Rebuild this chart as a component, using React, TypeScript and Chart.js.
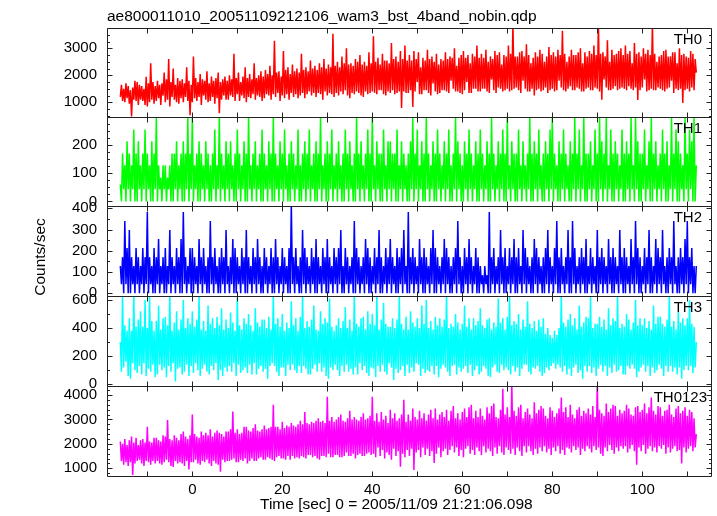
import React, { useEffect, useRef } from "react";
import { Chart, registerables } from "chart.js";
Chart.register(...registerables);

// ---- data: counts/sec sampled every 0.25 s starting at t = -16 s ----
const T0 = -16;
const DT = 0.25;

const th0 = [
  1200, 1650, 1050, 1500, 1000, 1700, 1150, 1600,
  950, 1450, 480, 1550, 1100, 1800, 1050, 1750,
  900, 1650, 1100, 1600, 1050, 1500, 900, 1950,
  850, 1700, 1000, 2450, 1100, 1750, 950, 1600,
  1050, 1800, 1150, 1650, 900, 1700, 1250, 2100,
  1000, 1850, 1100, 2600, 850, 1750, 1200, 2250,
  1100, 1650, 1000, 1900, 950, 1800, 1150, 1850,
  1000, 1700, 1200, 2300, 1050, 1800, 520, 1650,
  1000, 2700, 1150, 1900, 1050, 1750, 1200, 2050,
  900, 1850, 1250, 1800, 1100, 2150, 1000, 1700,
  1050, 1950, 1200, 1800, 950, 1900, 1150, 2100,
  600, 1750, 1100, 1850, 1250, 1950, 1100, 1800,
  1100, 2000, 1250, 1850, 1200, 2800, 1050, 1900,
  1300, 2100, 1050, 1750, 1250, 1950, 1150, 2300,
  1000, 1900, 1200, 2050, 1150, 1850, 1300, 2450,
  1100, 1900, 1250, 2000, 1200, 2150, 1050, 1950,
  1150, 2200, 1300, 2050, 1250, 2350, 1100, 2000,
  1300, 3280, 1200, 2100, 1350, 2150, 1050, 1950,
  1250, 2900, 1150, 2200, 1300, 2300, 1100, 2050,
  1350, 2400, 1200, 2150, 1300, 2250, 1150, 2100,
  1250, 2800, 1350, 2200, 1150, 2300, 1300, 2150,
  1400, 2550, 1250, 2250, 1350, 2350, 1200, 2200,
  1350, 2450, 1300, 2300, 1100, 2600, 1400, 2250,
  1250, 2400, 1350, 2300, 1300, 3540, 1200, 2350,
  1350, 2500, 1250, 2300, 1400, 2700, 1300, 2450,
  1450, 3000, 1250, 2400, 1150, 2450, 1350, 2350,
  1300, 2600, 1400, 2500, 1350, 2750, 1250, 2400,
  1200, 2500, 1400, 2350, 1300, 2850, 1350, 2450,
  1400, 3450, 1350, 2500, 1300, 2650, 1450, 2400,
  1450, 2800, 1300, 2550, 1250, 2550, 1400, 2450,
  1350, 3200, 1450, 2600, 1300, 2700, 1350, 2500,
  1400, 2900, 790, 2600, 1400, 3100, 1350, 2550,
  1350, 2750, 1450, 2550, 830, 2900, 1400, 2600,
  1750, 2850, 1300, 2300, 1300, 2650, 1450, 2550,
  1450, 2950, 1350, 2600, 1250, 2700, 1700, 2500,
  1400, 2800, 1300, 2400, 1350, 2600, 1450, 2550,
  1450, 2850, 1400, 2600, 1350, 2700, 1800, 2650,
  1500, 3000, 1400, 2350, 1400, 2650, 1350, 2750,
  1300, 2900, 1450, 2650, 1750, 2750, 1350, 2450,
  1350, 2800, 1500, 2700, 1500, 3100, 1400, 2650,
  1400, 2800, 1500, 2650, 1500, 2950, 1400, 2500,
  1350, 2700, 1850, 2600, 1450, 2900, 1350, 2750,
  1550, 2850, 1500, 2400, 1400, 2750, 1450, 2700,
  1500, 3100, 1400, 2800, 1450, 3900, 1500, 2700,
  1550, 2700, 1450, 2850, 1350, 2900, 1800, 2700,
  1500, 3150, 1400, 2750, 1400, 2450, 1500, 2650,
  1250, 2850, 1450, 2700, 1500, 2950, 1400, 2800,
  1450, 2500, 1550, 2700, 1350, 3050, 1450, 2750,
  1500, 2850, 1400, 2700, 1450, 2950, 1800, 2750,
  1550, 3650, 1450, 2800, 1400, 2500, 1500, 2700,
  1600, 2950, 1450, 2750, 1450, 2750, 1550, 2850,
  1500, 3000, 1400, 2450, 1400, 2850, 1500, 2700,
  1550, 2900, 1450, 2800, 1450, 3100, 1550, 2750,
  1500, 3900, 1400, 2800, 1100, 2850, 1850, 2700,
  1550, 3300, 1450, 2500, 1450, 2950, 1500, 2750,
  1600, 2800, 1450, 2900, 1500, 3000, 1550, 2750,
  1500, 3100, 1450, 2800, 1600, 2900, 1500, 2450,
  1450, 3200, 1550, 2800, 1090, 2850, 1450, 2700,
  1550, 3000, 1850, 2800, 1400, 2950, 1450, 2750,
  1500, 3900, 1450, 2800, 1450, 2500, 1550, 2700,
  1500, 2750, 1450, 2900, 1400, 2950, 1500, 2700,
  1550, 2700, 1800, 2850, 1350, 2850, 1500, 2450,
  1450, 3000, 1500, 2750, 975, 2800, 1450, 2700,
  1500, 2650, 1400, 2900, 1550, 2800, 1450, 2600,
  2100,
];

const th1 = [
  60, 0, 170, 43, 128, 0, 213, 43,
  170, 0, 128, 43, 255, 0, 170, 0,
  213, 43, 128, 0, 170, 43, 255, 0,
  170, 43, 128, 0, 213, 0, 170, 43,
  297, 0, 128, 43, 85, 0, 128, 43,
  128, 0, 85, 43, 128, 0, 170, 0,
  170, 43, 213, 0, 128, 43, 170, 0,
  213, 0, 170, 43, 297, 0, 170, 43,
  297, 0, 128, 43, 170, 0, 213, 0,
  170, 43, 128, 0, 213, 43, 170, 0,
  128, 0, 170, 43, 255, 0, 128, 43,
  297, 0, 170, 43, 128, 0, 213, 43,
  170, 0, 213, 43, 128, 0, 170, 0,
  255, 43, 170, 0, 128, 43, 213, 0,
  170, 0, 297, 43, 128, 0, 170, 43,
  213, 0, 128, 43, 170, 0, 255, 0,
  170, 43, 128, 0, 213, 43, 170, 0,
  297, 0, 170, 43, 128, 0, 213, 43,
  170, 0, 255, 43, 128, 0, 170, 0,
  213, 43, 170, 0, 128, 43, 255, 0,
  128, 0, 170, 43, 213, 0, 170, 43,
  255, 0, 128, 43, 170, 0, 213, 0,
  170, 43, 297, 0, 128, 43, 170, 0,
  213, 0, 170, 43, 255, 0, 128, 43,
  170, 0, 213, 43, 128, 0, 170, 0,
  255, 43, 170, 0, 213, 43, 128, 0,
  170, 0, 297, 43, 170, 0, 213, 43,
  128, 0, 170, 43, 255, 0, 170, 0,
  297, 43, 128, 0, 213, 43, 170, 0,
  170, 0, 255, 43, 128, 0, 213, 43,
  213, 0, 170, 43, 170, 0, 255, 0,
  128, 43, 213, 0, 170, 43, 128, 0,
  170, 0, 213, 43, 297, 0, 170, 43,
  255, 0, 128, 43, 213, 0, 170, 0,
  297, 43, 170, 0, 128, 43, 213, 0,
  170, 0, 255, 43, 170, 0, 128, 43,
  213, 0, 170, 43, 255, 0, 128, 0,
  170, 43, 297, 0, 213, 43, 170, 0,
  128, 0, 213, 43, 170, 0, 255, 43,
  170, 0, 128, 43, 213, 0, 170, 0,
  255, 43, 170, 0, 128, 43, 213, 0,
  170, 0, 297, 43, 170, 0, 128, 43,
  213, 0, 170, 43, 255, 0, 170, 0,
  297, 43, 128, 0, 213, 43, 170, 0,
  170, 0, 255, 43, 128, 0, 213, 43,
  128, 0, 170, 43, 297, 0, 170, 0,
  213, 43, 170, 0, 255, 43, 128, 0,
  170, 0, 213, 43, 170, 0, 255, 43,
  297, 0, 170, 43, 128, 0, 213, 0,
  170, 43, 255, 0, 170, 43, 128, 0,
  213, 0, 170, 43, 297, 0, 170, 43,
  255, 0, 128, 43, 297, 0, 170, 0,
  170, 43, 213, 0, 128, 43, 255, 0,
  170, 0, 297, 43, 213, 0, 170, 43,
  297, 0, 128, 43, 255, 0, 170, 0,
  213, 43, 170, 0, 128, 43, 255, 0,
  170, 0, 213, 43, 170, 0, 297, 43,
  128, 0, 297, 43, 213, 0, 170, 0,
  170, 43, 255, 0, 128, 43, 213, 0,
  297, 0, 170, 43, 213, 0, 128, 43,
  170, 0, 255, 43, 170, 0, 213, 0,
  128, 43, 297, 0, 170, 43, 255, 0,
  213, 0, 170, 43, 128, 0, 297, 43,
  170, 0, 255, 43, 213, 0, 297, 0,
  128,
];

const th2 = [
  128, 43, 170, 0, 340, 43, 213, 0,
  298, 0, 170, 43, 128, 0, 213, 43,
  170, 0, 128, 43, 213, 0, 170, 43,
  383, 0, 170, 43, 128, 0, 213, 0,
  170, 43, 255, 0, 128, 43, 170, 0,
  213, 0, 128, 43, 298, 0, 170, 43,
  128, 0, 213, 43, 170, 0, 255, 0,
  383, 43, 170, 0, 128, 43, 213, 0,
  213, 0, 170, 43, 128, 0, 255, 43,
  170, 0, 213, 43, 128, 0, 170, 0,
  340, 43, 170, 0, 213, 43, 128, 0,
  170, 0, 213, 43, 170, 0, 298, 43,
  128, 0, 170, 43, 255, 0, 213, 0,
  170, 43, 128, 0, 213, 43, 170, 0,
  298, 0, 170, 43, 128, 0, 213, 43,
  170, 0, 255, 43, 170, 0, 128, 0,
  213, 43, 170, 0, 128, 43, 213, 0,
  170, 0, 255, 43, 170, 0, 128, 43,
  213, 0, 170, 43, 128, 0, 213, 0,
  425, 43, 170, 0, 213, 43, 128, 0,
  170, 0, 298, 43, 213, 0, 170, 43,
  128, 0, 213, 43, 170, 0, 255, 0,
  170, 43, 128, 0, 213, 43, 170, 0,
  255, 0, 170, 43, 128, 0, 213, 43,
  170, 0, 213, 43, 298, 0, 128, 0,
  213, 43, 170, 0, 128, 43, 170, 0,
  340, 0, 213, 43, 170, 0, 128, 43,
  170, 0, 255, 43, 213, 0, 170, 0,
  128, 43, 213, 0, 170, 43, 298, 0,
  170, 0, 128, 43, 213, 0, 170, 43,
  255, 0, 170, 43, 128, 0, 213, 0,
  170, 43, 213, 0, 298, 43, 128, 0,
  383, 0, 170, 43, 213, 0, 170, 43,
  128, 0, 255, 43, 170, 0, 213, 0,
  170, 43, 128, 0, 213, 43, 298, 0,
  213, 0, 170, 43, 128, 0, 170, 43,
  255, 0, 213, 43, 170, 0, 128, 0,
  170, 43, 213, 0, 340, 43, 170, 0,
  128, 0, 213, 43, 170, 0, 255, 43,
  170, 0, 128, 43, 213, 0, 170, 0,
  128, 43, 85, 0, 128, 43, 85, 0,
  383, 0, 170, 43, 213, 0, 128, 43,
  170, 0, 298, 43, 170, 0, 213, 0,
  128, 43, 213, 0, 170, 43, 255, 0,
  170, 0, 213, 43, 128, 0, 298, 43,
  213, 0, 170, 43, 128, 0, 170, 0,
  255, 43, 213, 0, 170, 43, 128, 0,
  170, 0, 213, 43, 298, 0, 170, 43,
  128, 0, 213, 43, 340, 0, 170, 0,
  213, 43, 128, 0, 170, 43, 298, 0,
  170, 0, 340, 43, 213, 0, 128, 43,
  170, 0, 213, 43, 170, 0, 255, 0,
  128, 43, 213, 0, 170, 43, 128, 0,
  298, 0, 170, 43, 213, 0, 170, 43,
  128, 0, 255, 43, 170, 0, 213, 0,
  170, 43, 128, 0, 298, 43, 170, 0,
  213, 0, 170, 43, 128, 0, 255, 43,
  170, 0, 340, 43, 213, 0, 170, 0,
  128, 43, 213, 0, 170, 43, 298, 0,
  170, 0, 128, 43, 255, 0, 213, 43,
  170, 0, 298, 43, 128, 0, 170, 0,
  213, 43, 170, 0, 340, 43, 128, 0,
  170, 0, 213, 43, 170, 0, 255, 43,
  340, 0, 170, 43, 213, 0, 128, 0,
  128,
];

const th3 = [
  300, 90, 640, 120, 420, 160, 380, 60,
  470, 40, 380, 150, 640, 100, 410, 80,
  460, 130, 520, 70, 410, 150, 600, 60,
  400, 110, 640, 90, 450, 140, 380, 50,
  450, 70, 560, 140, 390, 100, 470, 120,
  480, 50, 420, 130, 640, 90, 380, 150,
  440, 20, 520, 110, 390, 120, 460, 70,
  600, 90, 400, 140, 470, 60, 430, 130,
  520, 80, 410, 150, 460, 100, 640, 60,
  390, 110, 450, 140, 380, 90, 560, 70,
  430, 130, 470, 100, 400, 150, 480, 30,
  420, 100, 540, 60, 390, 120, 460, 90,
  400, 130, 510, 90, 440, 150, 380, 60,
  620, 140, 420, 80, 390, 100, 470, 120,
  430, 80, 500, 140, 420, 70, 380, 150,
  540, 70, 440, 110, 410, 130, 460, 90,
  460, 110, 400, 40, 480, 130, 390, 150,
  640, 130, 430, 90, 470, 60, 410, 120,
  500, 120, 380, 60, 440, 140, 400, 100,
  590, 140, 420, 100, 470, 80, 380, 130,
  480, 80, 640, 130, 400, 110, 450, 70,
  410, 70, 460, 110, 560, 140, 390, 90,
  380, 150, 520, 90, 430, 120, 470, 60,
  440, 40, 610, 120, 410, 100, 380, 140,
  420, 100, 470, 60, 400, 130, 450, 90,
  550, 140, 400, 90, 460, 110, 380, 70,
  640, 120, 430, 70, 410, 150, 470, 100,
  480, 130, 390, 80, 520, 60, 430, 120,
  500, 110, 420, 50, 640, 130, 390, 90,
  460, 140, 580, 90, 430, 70, 410, 150,
  410, 120, 470, 30, 400, 110, 460, 80,
  640, 100, 430, 130, 390, 60, 480, 140,
  390, 80, 520, 120, 440, 90, 410, 150,
  470, 140, 400, 60, 560, 110, 430, 80,
  600, 100, 400, 90, 450, 130, 390, 70,
  480, 130, 420, 50, 470, 110, 410, 140,
  460, 120, 640, 90, 400, 60, 430, 130,
  410, 140, 500, 70, 440, 120, 390, 90,
  430, 110, 560, 130, 410, 80, 470, 140,
  390, 60, 470, 100, 420, 130, 450, 70,
  540, 90, 420, 130, 400, 110, 460, 60,
  470, 50, 390, 120, 440, 140, 410, 90,
  610, 80, 440, 140, 470, 100, 390, 120,
  480, 100, 640, 70, 420, 130, 450, 90,
  430, 120, 500, 60, 390, 110, 460, 140,
  410, 140, 590, 90, 430, 70, 400, 120,
  450, 110, 380, 130, 460, 90, 410, 60,
  470, 80, 360, 120, 400, 100, 350, 130,
  330, 150, 380, 110, 350, 140, 400, 120,
  640, 90, 440, 130, 410, 70, 460, 110,
  500, 60, 420, 120, 470, 140, 390, 80,
  560, 100, 410, 40, 440, 130, 480, 90,
  470, 130, 620, 80, 400, 120, 430, 60,
  430, 110, 480, 140, 410, 90, 460, 130,
  390, 60, 540, 120, 420, 80, 470, 140,
  450, 90, 640, 100, 400, 130, 430, 70,
  410, 70, 500, 130, 460, 110, 390, 140,
  440, 110, 600, 50, 420, 90, 470, 120,
  420, 140, 470, 90, 400, 130, 450, 60,
  390, 120, 560, 80, 430, 100, 480, 140,
  480, 110, 430, 60, 410, 130, 460, 90,
  640, 130, 410, 90, 450, 120, 390, 70,
  520, 120, 440, 40, 470, 100, 420, 130,
  470, 100, 600, 130, 430, 80, 410, 120,
  300,
];

const th0123 = [
  2100, 1300, 2000, 1150, 2200, 1250, 1950, 1100,
  2150, 1250, 2300, 725, 2050, 1200, 2250, 1300,
  1950, 1350, 2150, 1200, 2200, 1100, 2050, 1300,
  2700, 1250, 2100, 1150, 2050, 1300, 2250, 1200,
  2250, 1300, 2150, 1200, 2100, 1150, 2350, 1250,
  2300, 1350, 2980, 1250, 2200, 1100, 2150, 1050,
  2350, 1300, 2250, 1200, 2150, 1250, 2400, 1200,
  2500, 1100, 2300, 1300, 2200, 950, 2350, 1250,
  3200, 1250, 2400, 1350, 2300, 1200, 2250, 1150,
  2500, 1300, 2350, 1250, 2450, 1350, 2350, 1200,
  2600, 1100, 2300, 1300, 2450, 1200, 2550, 1150,
  2450, 860, 2400, 1350, 2300, 1250, 2500, 1300,
  2500, 1300, 2600, 1350, 3320, 1400, 2450, 1250,
  2600, 1250, 2400, 1350, 2450, 1300, 2700, 1400,
  2700, 1200, 2550, 1300, 2500, 1400, 2650, 1300,
  2800, 1300, 2550, 1400, 2500, 1450, 2600, 1350,
  2750, 1350, 2600, 1450, 2650, 1400, 2700, 1350,
  3600, 1300, 2700, 1450, 2700, 1500, 2600, 1400,
  2900, 1400, 2650, 1350, 2750, 1500, 2700, 1350,
  2850, 1500, 2750, 1400, 2700, 1450, 2800, 1400,
  2950, 1500, 2800, 1450, 3300, 1400, 2850, 1550,
  2800, 1550, 2900, 1450, 2850, 1500, 2950, 1400,
  3050, 1350, 2900, 1500, 2950, 1500, 2850, 1450,
  3930, 1600, 2950, 1450, 3100, 1450, 2900, 1550,
  3000, 1550, 3100, 1450, 3200, 1450, 2950, 1500,
  2900, 1650, 3050, 1500, 3350, 1500, 3000, 1600,
  3100, 1400, 3000, 1550, 2950, 1600, 3100, 1500,
  3250, 1500, 3000, 1600, 3050, 1650, 3150, 1550,
  3930, 1600, 2950, 1450, 3250, 1850, 2900, 1500,
  3300, 1750, 3000, 1400, 3150, 1650, 2850, 1550,
  3400, 1350, 3050, 1800, 3250, 1500, 2950, 1700,
  3050, 1065, 3200, 1600, 3800, 1450, 2900, 1750,
  3200, 1500, 2950, 1800, 3450, 930, 3100, 1650,
  3000, 1750, 3350, 1450, 3050, 1850, 3250, 1550,
  2950, 1800, 3200, 1500, 3400, 1700, 3050, 1220,
  3450, 1600, 3000, 1850, 3200, 1450, 3300, 1700,
  3100, 1800, 3400, 1550, 2950, 1750, 3350, 1900,
  3550, 1650, 3050, 1850, 3250, 1500, 3000, 1750,
  3300, 1450, 3450, 1800, 3100, 1900, 3500, 1600,
  3600, 1750, 3050, 1550, 3350, 1850, 3100, 1700,
  3450, 1550, 3150, 1900, 3000, 1650, 3500, 1800,
  3250, 1700, 3550, 1500, 3650, 1850, 3100, 1600,
  3050, 1900, 3400, 1650, 4250, 1550, 3200, 1850,
  3500, 1750, 3100, 1600, 4500, 1800, 3350, 1550,
  3150, 1850, 3500, 1700, 3600, 1500, 3050, 1900,
  3300, 1650, 3450, 1900, 3200, 1700, 3050, 1550,
  3700, 1800, 3250, 1600, 3400, 1850, 3550, 1700,
  3450, 1900, 3150, 1650, 3050, 1800, 3500, 1550,
  3350, 1850, 3100, 1700, 3250, 1900, 3450, 1600,
  3900, 1750, 3300, 1550, 3500, 1850, 3100, 1800,
  3600, 1650, 3200, 1900, 3050, 1750, 3400, 1850,
  3500, 1550, 3150, 1800, 3350, 1700, 3250, 1900,
  3450, 1800, 3200, 1650, 3550, 1900, 3100, 1750,
  4500, 1850, 3400, 1600, 3250, 1500, 3150, 1850,
  3650, 1700, 3300, 1950, 3450, 1750, 3600, 1600,
  3550, 1850, 3150, 1700, 3400, 1900, 3250, 1800,
  3350, 1900, 3600, 1650, 3450, 1800, 3200, 1950,
  3150, 1700, 3500, 1150, 3550, 1850, 3300, 1700,
  3400, 1950, 3650, 1600, 3250, 1800, 3500, 1900,
  3900, 1700, 3350, 1850, 3200, 1650, 3550, 1900,
  3500, 1800, 3150, 1950, 3350, 1600, 3400, 1850,
  3600, 1650, 3200, 1800, 3100, 1900, 3450, 1700,
  3550, 1750, 3250, 1200, 3350, 1850, 3500, 1650,
  3150, 1800, 3400, 1900, 3300, 1700, 3050, 1850,
  2400,
];

const SERIES = [th0, th1, th2, th3, th0123];
const PANEL_NAMES = ["TH0", "TH1", "TH2", "TH3", "TH0123"];
const Y_MIN = [456, -16, -13, -12, 685];
const Y_MAX = [3752, 299, 411, 628, 4368];
const Y_TICK_LABELS = [
  [1000, 2000, 3000],
  [0, 100, 200],
  [0, 100, 200, 300, 400],
  [0, 200, 400, 600],
  [1000, 2000, 3000, 4000],
];
const Y_MAJOR = [1000, 100, 100, 200, 1000];
const Y_MINOR = [250, 25, 50, 100, 200];
const X_MIN = -18.96;
const X_MAX = 115.27;
const X_TICK_LABELS = [0, 20, 40, 60, 80, 100];
const X_MAJOR = 10;

const TITLE = "ae800011010_20051109212106_wam3_bst_4band_nobin.qdp";
const X_TITLE = "Time [sec] 0 = 2005/11/09 21:21:06.098";
const Y_TITLE = "Counts/sec";

// ---- styles / layout ----
const W = 717;
const H = 516;
const COLORS = ["#ff0000", "#00ff00", "#0000ff", "#00ffff", "#ff00ff"];
const EDGES = [28, 117, 206, 296, 386, 476];
const PLOT_LEFT = 107;
const PLOT_RIGHT = 711;
const NAME_RIGHT = [702, 702, 702, 702, 707];
const FRAME = "#222222";
const FONT = '"Liberation Sans", Arial, Helvetica, sans-serif';
const LINE_W = 1.5;

function makePlugin(idx: number) {
  return {
    id: "qdpframe" + idx,
    afterDraw(chart: any) {
      const ctx = chart.ctx;
      const a = chart.chartArea;
      const xs = chart.scales.x;
      const ys = chart.scales.y;
      const L = Math.round(a.left) + 0.5;
      const R = Math.round(a.right) + 0.5;
      const T = Math.round(a.top) + 0.5;
      const B = Math.round(a.bottom) + 0.5;
      ctx.save();
      ctx.strokeStyle = FRAME;
      ctx.lineWidth = 1;
      ctx.beginPath();
      ctx.rect(L, T, R - L, B - T);
      ctx.stroke();

      ctx.beginPath();
      const minor = Y_MINOR[idx], major = Y_MAJOR[idx];
      for (let v = Math.ceil(ys.min / minor) * minor; v <= ys.max; v += minor) {
        const isMajor = Math.abs(v / major - Math.round(v / major)) < 1e-6;
        const len = isMajor ? 5 : 2.5;
        const y = Math.round(ys.getPixelForValue(v)) + 0.5;
        ctx.moveTo(L, y); ctx.lineTo(L + len, y);
        ctx.moveTo(R, y); ctx.lineTo(R - len, y);
      }
      for (let v = Math.ceil(xs.min / X_MAJOR) * X_MAJOR; v <= xs.max; v += X_MAJOR) {
        const x = Math.round(xs.getPixelForValue(v)) + 0.5;
        ctx.moveTo(x, T); ctx.lineTo(x, T + 5);
        ctx.moveTo(x, B); ctx.lineTo(x, B - 5);
      }
      ctx.stroke();

      ctx.fillStyle = "#000";
      ctx.font = "15px " + FONT;
      ctx.textAlign = "right";
      ctx.textBaseline = "middle";
      for (const v of Y_TICK_LABELS[idx]) {
        ctx.fillText(String(v), a.left - 10, ys.getPixelForValue(v));
      }
      ctx.textBaseline = "alphabetic";
      ctx.fillText(PANEL_NAMES[idx], NAME_RIGHT[idx], a.top + 15.5);

      if (idx === SERIES.length - 1) {
        ctx.textAlign = "center";
        for (const v of X_TICK_LABELS) {
          ctx.fillText(String(v), xs.getPixelForValue(v), a.bottom + 17.5);
        }
        ctx.font = "15.5px " + FONT;
        ctx.textAlign = "left";
        ctx.fillText(X_TITLE, 260, 509);
      }
      if (idx === 0) {
        ctx.font = "15.5px " + FONT;
        ctx.textAlign = "left";
        ctx.fillText(TITLE, a.left, 21);
        ctx.save();
        ctx.translate(41, 257);
        ctx.rotate(-Math.PI / 2);
        ctx.textAlign = "center";
        ctx.textBaseline = "middle";
        ctx.fillText(Y_TITLE, 0, 0);
        ctx.restore();
      }
      ctx.restore();
    },
  };
}

function Panel({ idx }: { idx: number }) {
  const ref = useRef<HTMLCanvasElement | null>(null);
  useEffect(() => {
    if (!ref.current) return;
    const values = SERIES[idx];
    const chart = new Chart(ref.current, {
      type: "line",
      data: {
        datasets: [
          {
            data: values.map((v, i) => ({ x: T0 + i * DT, y: v })),
            borderColor: COLORS[idx],
            borderWidth: LINE_W,
            borderJoinStyle: "bevel",
            pointRadius: 0,
            tension: 0,
            fill: false,
            clip: 0,
          } as any,
        ],
      },
      options: {
        animation: false,
        responsive: false,
        devicePixelRatio: 1,
        events: [],
        layout: {
          padding: {
            left: PLOT_LEFT,
            right: W - PLOT_RIGHT,
            top: EDGES[idx],
            bottom: H - EDGES[idx + 1],
          },
        },
        scales: {
          x: { type: "linear", display: false, min: X_MIN, max: X_MAX },
          y: { type: "linear", display: false, min: Y_MIN[idx], max: Y_MAX[idx] },
        },
        plugins: {
          legend: { display: false },
          tooltip: { enabled: false },
          title: { display: false },
        },
      },
      plugins: [makePlugin(idx)],
    });
    return () => chart.destroy();
  }, [idx]);
  return (
    <canvas
      ref={ref}
      width={W}
      height={H}
      style={{ position: "absolute", left: 0, top: 0, width: W, height: H }}
    />
  );
}

export default function App() {
  return (
    <div
      style={{
        position: "fixed",
        left: 0,
        top: 0,
        width: W,
        height: H,
        background: "#fff",
        overflow: "hidden",
      }}
    >
      {SERIES.map((_, i) => (
        <Panel key={i} idx={i} />
      ))}
    </div>
  );
}
